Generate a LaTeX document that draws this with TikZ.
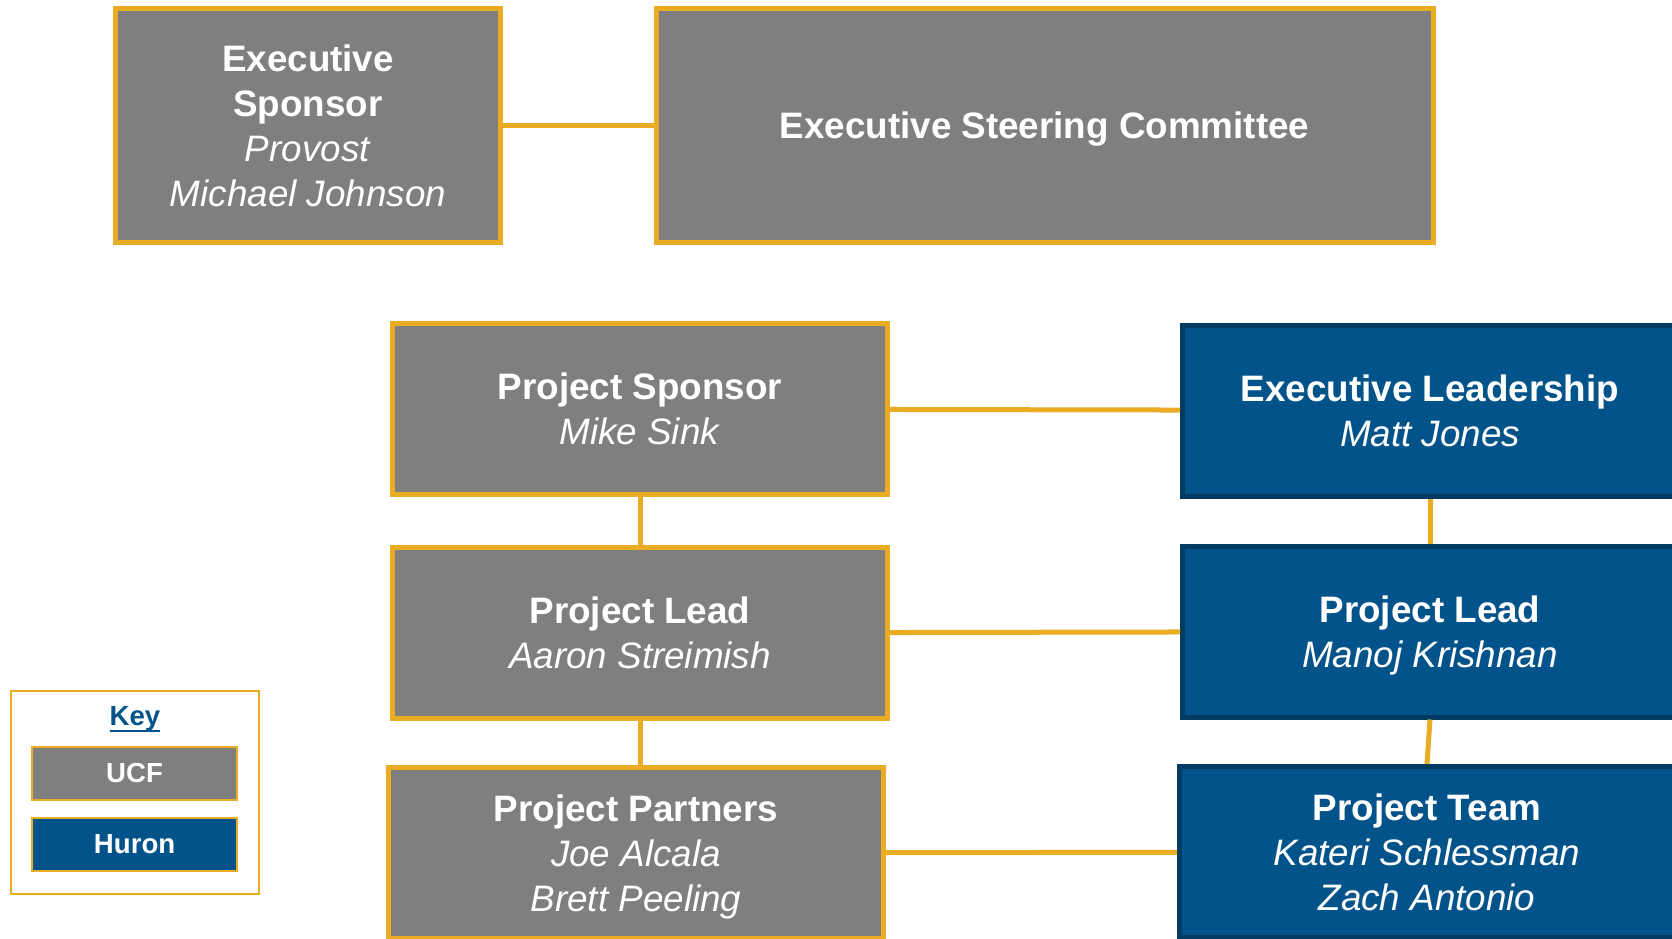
\documentclass[tikz,border=0pt]{standalone}
\usepackage{fontspec}
\setmainfont{Liberation Sans}
\usepackage{tikz}
\definecolor{ucfgold}{RGB}{234,172,35}
\definecolor{ucfgrey}{RGB}{127,127,127}
\definecolor{huronblue}{RGB}{2,83,138}
\definecolor{huronnavy}{RGB}{3,59,99}
\newcommand{\keyline}[1]{\setbox0\hbox{#1}\rlap{\rule[-3.2pt]{\wd0}{1.2pt}}\box0}
\tikzset{>=latex}
\tikzset{
  ucfbox/.style={draw=ucfgold,fill=ucfgrey,line width=2.5pt,text=white,align=center,
    minimum width=247.5pt,minimum height=85.5pt,font=\fontsize{18.4}{22.5}\selectfont},
  huronbox/.style={ucfbox,draw=huronnavy,fill=huronblue},
  link/.style={draw=ucfgold,line width=2.5pt},
  keybox/.style={draw=ucfgold,line width=1pt,text=white,minimum width=102.7pt,
    minimum height=26.5pt,font=\fontsize{13.8}{16}\selectfont\bfseries}
}

\begin{document}
\begin{tikzpicture}[x=0.5pt,y=-0.5pt]
      \useasboundingbox (0,0) rectangle (1672,938);
      \clip (0,0) rectangle (1672,938);
      \node[ucfbox,minimum width=192.5pt,minimum height=117pt] (exsp) at (308,125.5)
        {\textbf{Executive}\\\textbf{Sponsor}\\\textit{Provost}\\\textit{Michael Johnson}};
      \node[ucfbox,minimum width=388.5pt,minimum height=117pt,text depth=0pt] (esc) at (1044.5,125.5)
        {\textbf{Executive Steering Committee}};
      \node[ucfbox] (psp) at (640,409) {\textbf{Project Sponsor}\\\textit{Mike Sink}};
      \node[ucfbox] (pl) at (640,633) {\textbf{Project Lead}\\\textit{Aaron Streimish}};
      \node[ucfbox] (pp) at (636,853) {\textbf{Project Partners}\\\textit{Joe Alcala}\\\smash{\textit{Brett Peeling}}};
      \node[huronbox] (el) at (1430,410.5) {\textbf{Executive Leadership}\\\textit{Matt Jones}};
      \node[huronbox] (plh) at (1430,631.5) {\textbf{Project Lead}\\\smash{\textit{Manoj Krishnan}}};
      \node[huronbox] (pt) at (1427,852) {\textbf{Project Team}\\\textit{Kateri Schlessman}\\\textit{Zach Antonio}};
      \draw[link] (exsp) -- (esc);
      \draw[link] (psp) -- (el);
      \draw[link] (pl) -- (plh);
      \draw[link] (pp) -- (pt);
      \draw[link] (psp) -- (pl);
      \draw[link] (pl.south) -- (pl.south |- pp.north);
      \draw[link] (el) -- (plh);
      \draw[link] (plh.south) -- (pt.north);
      \node[draw=ucfgold,line width=1pt,minimum width=124pt,minimum height=101.5pt] (key) at (135,792.5) {};
      \node[anchor=base,text=huronblue,font=\fontsize{13.8}{16}\selectfont\bfseries] (keytitle) at (135,725.7) {\keyline{Key}};
      \node[keybox,fill=ucfgrey] (ucf) at (134.6,773.2) {UCF};
      \node[keybox,fill=huronblue] (huron) at (134.6,844.5) {Huron};
\end{tikzpicture}
\end{document}
